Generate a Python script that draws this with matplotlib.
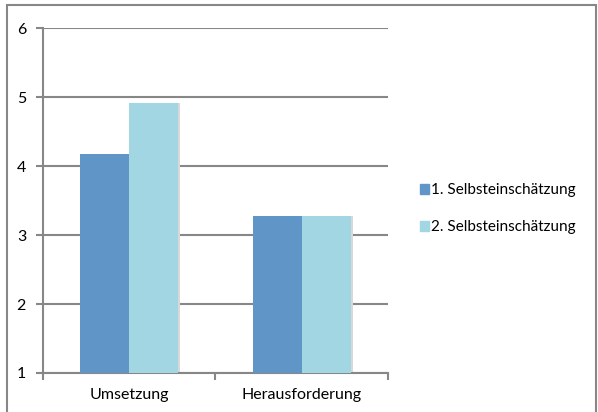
import numpy as np
import matplotlib.pyplot as plt
from matplotlib.patches import Rectangle, Patch

kategorien = ["Umsetzung", "Herausforderung"]
serien = ["1. Selbsteinschätzung", "2. Selbsteinschätzung"]
werte_1 = [4.17, 3.28]
werte_2 = [4.92, 3.28]
farben = ["#5F95C7", "#A3D6E3"]
grau = "#878787"

plt.rcParams['font.family'] = ['Lato', 'DejaVu Sans']

fig = plt.figure(figsize=(5.98, 4.12), dpi=100)
ax = fig.add_axes([0.0714, 0.0947, 0.5776, 0.837])

# Rahmen um das ganze Diagramm
fig.patches.append(Rectangle((7 / 598, -0.01), 589 / 598, 1 - 5 / 412 + 0.01,
                             transform=fig.transFigure, fill=False,
                             edgecolor=grau, linewidth=1.5))

x = np.arange(len(kategorien)) + 0.5
b = 0.285
for i, (werte, farbe) in enumerate(zip([werte_1, werte_2], farben)):
    pos = x - b / 2 + i * b
    # leichter Schatten rechts neben den Balken
    ax.bar(pos + 0.012, np.array(werte) - 1, b, bottom=1, color="#d8d8d8", zorder=2)
    ax.bar(pos, np.array(werte) - 1, b, bottom=1, color=farbe, zorder=3)

ax.set_xlim(0, 2)
ax.set_ylim(1, 6)
ax.set_yticks(range(1, 7))
ax.yaxis.grid(True, color=grau, linewidth=1.5)
ax.set_axisbelow(True)
ax.set_xticks(x)
ax.set_xticklabels(kategorien, fontsize=11.5)
ax.set_xticks([0, 1, 2], minor=True)
ax.tick_params(axis='x', which='major', length=0, pad=11)
ax.tick_params(axis='x', which='minor', length=5, color=grau, width=1.5)
ax.tick_params(axis='y', length=5, color=grau, width=1.5, labelsize=11.5, pad=7)
for s in ["top", "right"]:
    ax.spines[s].set_visible(False)
for s in ["left", "bottom"]:
    ax.spines[s].set_color(grau)
    ax.spines[s].set_linewidth(1.5)

handles = [Patch(color=f) for f in farben]
fig.legend(handles, serien, loc="center left", bbox_to_anchor=(0.68, 0.493),
           frameon=False, fontsize=11, handlelength=0.55, handleheight=0.6,
           handletextpad=0.15, labelspacing=1.5)

fig.savefig("out.png", dpi=100)
